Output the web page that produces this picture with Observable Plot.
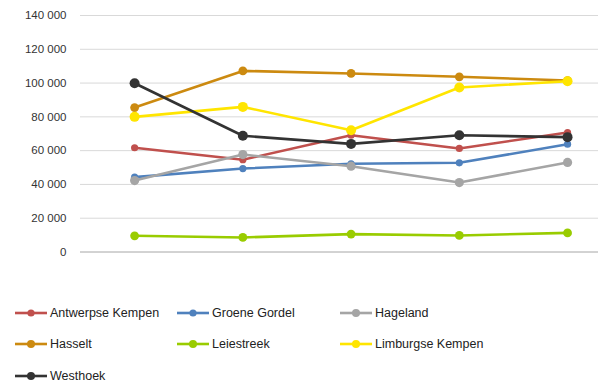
<!DOCTYPE html>
<html>
<head>
<meta charset="utf-8">
<script src="https://cdn.jsdelivr.net/npm/d3@7"></script>
<script src="https://cdn.jsdelivr.net/npm/@observablehq/plot@0.6"></script>
<style>
  html, body { margin: 0; padding: 0; background: #fff; }
  #wrap { width: 598px; height: 384px; position: relative; font-family: "Liberation Sans", Arial, sans-serif; }
  #legend { position: absolute; left: 0; top: 0; width: 598px; }
  .item { position: absolute; display: flex; align-items: center; font-size: 12.5px; color: #222; white-space: nowrap; }
  .item svg { margin-right: 3px; }
</style>
</head>
<body>
<div id="wrap">
  <div id="chart"></div>
  <div id="legend"></div>
</div>
<script>
const periods = [1, 2, 3, 4, 5];
const seriesNames = ["Antwerpse Kempen", "Groene Gordel", "Hageland", "Hasselt", "Leiestreek", "Limburgse Kempen", "Westhoek"];
const antwerpseKempen = [61700, 54600, 69100, 61300, 70700];
const groeneGordel   = [44300, 49400, 52200, 52800, 63800];
const hageland       = [42300, 57700, 50800, 41100, 53000];
const hasselt        = [85500, 107200, 105700, 103700, 101500];
const leiestreek     = [9600, 8600, 10600, 9800, 11300];
const limburgseKempen = [80000, 85900, 72100, 97400, 101100];
const westhoek       = [99900, 68800, 64000, 69100, 68000];
const seriesValues = [antwerpseKempen, groeneGordel, hageland, hasselt, leiestreek, limburgseKempen, westhoek];
const seriesColors = ["#C0504D", "#4F81BD", "#A5A5A5", "#CC8A10", "#99CC00", "#FFE500", "#333333"];
const markerRadius = [3.6, 3.6, 4.6, 4.4, 4.4, 5, 5];
const yTicks = [0, 20000, 40000, 60000, 80000, 100000, 120000, 140000];

const locale = d3.formatLocale({decimal: ",", thousands: " ", grouping: [3], currency: ["", ""]});
const fmt = locale.format(",d");

const data = [];
seriesNames.forEach((name, i) => {
  periods.forEach((p, j) => data.push({series: name, period: p, value: seriesValues[i][j]}));
});

const marks = [
  Plot.ruleY(yTicks.filter(d => d > 0), {stroke: "#D9D9D9", strokeWidth: 1}),
  Plot.ruleY([0], {stroke: "#A6A6A6", strokeWidth: 1}),
  Plot.axisY({ticks: yTicks, tickSize: 0, tickPadding: 14, tickFormat: fmt, fontSize: 11.5, fill: "#333", label: null})
];
seriesNames.forEach((name, i) => {
  const d = data.filter(r => r.series === name);
  marks.push(Plot.line(d, {x: "period", y: "value", stroke: seriesColors[i], strokeWidth: 2.6}));
  marks.push(Plot.dot(d, {x: "period", y: "value", fill: seriesColors[i], r: markerRadius[i]}));
});

const chart = Plot.plot({
  width: 598,
  height: 270,
  marginLeft: 80,
  marginRight: 0,
  marginTop: 15,
  marginBottom: 18.5,
  style: {fontFamily: "'Liberation Sans', Arial, sans-serif", background: "white"},
  x: {domain: [0.5, 5.286], axis: null},
  y: {domain: [0, 140000], axis: null},
  marks
});
document.getElementById("chart").appendChild(chart);

// legend
const legend = document.getElementById("legend");
const colX = [15, 177, 340];
const rowY = [313, 344, 376];
seriesNames.forEach((name, i) => {
  const col = i % 3, row = Math.floor(i / 3);
  const el = document.createElement("div");
  el.className = "item";
  el.style.left = colX[col] + "px";
  el.style.top = (rowY[row] - 9) + "px";
  el.style.height = "18px";
  el.innerHTML = `<svg width="32" height="10"><line x1="0" x2="32" y1="5" y2="5" stroke="${seriesColors[i]}" stroke-width="2.6"/><circle cx="16" cy="5" r="${Math.min(markerRadius[i], 4)}" fill="${seriesColors[i]}"/></svg><span>${name}</span>`;
  legend.appendChild(el);
});
</script>
</body>
</html>
